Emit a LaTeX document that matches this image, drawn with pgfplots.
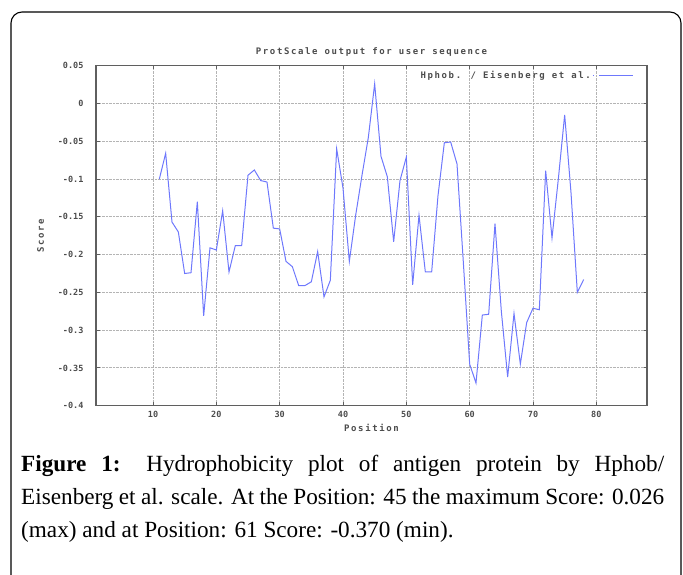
\documentclass[border=0pt]{standalone}
\usepackage{fontspec}
\setmainfont{Liberation Serif}
\newfontfamily\gp[LetterSpace=18]{DejaVu Sans Mono}
\newfontfamily\gpt{DejaVu Sans Mono}
\usepackage{pgfplots}
\pgfplotsset{compat=1.18}
\definecolor{curve}{RGB}{110,120,252}
\definecolor{gridc}{RGB}{180,180,180}
\definecolor{framec}{RGB}{95,95,95}

\pgfplotstableread{
pos score
11 -0.100
12 -0.066
13 -0.157
14 -0.170
15 -0.225
16 -0.224
17 -0.130
18 -0.281
19 -0.191
20 -0.194
21 -0.142
22 -0.223
23 -0.188
24 -0.188
25 -0.095
26 -0.088
27 -0.102
28 -0.104
29 -0.165
30 -0.166
31 -0.209
32 -0.216
33 -0.241
34 -0.241
35 -0.236
36 -0.196
37 -0.256
38 -0.234
39 -0.060
40 -0.112
41 -0.209
42 -0.148
43 -0.095
44 -0.045
45 0.026
46 -0.070
47 -0.097
48 -0.183
49 -0.102
50 -0.071
51 -0.240
52 -0.148
53 -0.223
54 -0.223
55 -0.122
56 -0.052
57 -0.051
58 -0.080
59 -0.210
60 -0.345
61 -0.370
62 -0.280
63 -0.279
64 -0.159
65 -0.275
66 -0.362
67 -0.278
68 -0.345
69 -0.290
70 -0.271
71 -0.273
72 -0.089
73 -0.178
74 -0.100
75 -0.015
76 -0.118
77 -0.250
78 -0.233
}\hydro

\begin{document}
\begin{tikzpicture}[x=1pt,y=1pt]
\path[use as bounding box] (0pt,0pt) rectangle (683pt,575pt);
\begin{scope}
\clip (0pt,0pt) rectangle (683pt,575pt);
\draw[line width=1.1pt, rounded corners=11pt] (11pt,-40pt) rectangle (681pt,563pt);
\end{scope}
\begin{axis}[
  at={(96pt,169.3pt)}, anchor=south west,
  scale only axis, width=551pt, height=340pt,
  xmin=1, xmax=88, ymin=-0.4, ymax=0.05,
  xtick={10,20,30,40,50,60,70,80},
  xticklabels={10,20,30,40,50,60,70,80},
  ytick={-0.4,-0.35,-0.3,-0.25,-0.2,-0.15,-0.1,-0.05,0,0.05},
  yticklabels={-0.4,-0.35,-0.3,-0.25,-0.2,-0.15,-0.1,-0.05,0,0.05},
  tick label style={font=\gpt\bfseries\fontsize{8.5}{9}\selectfont, text=black!70},
  yticklabel style={xshift=-9pt},
  xticklabel style={yshift=-2pt},
  grid=major,
  major grid style={gridc, densely dotted, line width=1pt},
  axis line style={framec, line width=1.4pt},
  tick style={framec, line width=0.9pt},
  tick align=inside, major tick length=3.5pt,
  title={ProtScale output for user sequence},
  title style={font=\gp\bfseries\fontsize{9}{10}\selectfont, text=black!70, at={(0.5,1)}, anchor=south, yshift=0pt},
  xlabel={Position},
  xlabel style={font=\gp\bfseries\fontsize{9}{10}\selectfont, text=black!70, yshift=0pt},
  ylabel={Score},
  ylabel style={font=\gp\bfseries\fontsize{9}{10}\selectfont, text=black!70, yshift=7pt},
  legend style={draw=none, fill=none, at={(1,1)}, anchor=north east, xshift=-10pt, yshift=-1pt,
    font=\gp\bfseries\fontsize{9}{10}\selectfont, text=black!70},
  legend plot pos=right,
  legend image code/.code={\path (0pt,0pt) -- (1pt,0pt);\draw[#1] (6pt,0pt) -- (40pt,0pt);},
]
\addplot[curve, line width=1pt] table[x=pos, y=score] {\hydro};
\addlegendentry{Hphob. / Eisenberg et al.}
\end{axis}
\node[anchor=north west, inner sep=0pt, text width=643pt, align=justify,
  font=\fontsize{23.2}{33}\selectfont] at (21pt,120pt)
  {\textbf{Figure 1:} Hydrophobicity plot of antigen protein by Hphob/\linebreak
  Eisenberg et al. scale. At the Position: 45 the maximum Score: 0.026\linebreak
  (max) and at Position: 61 Score: -0.370 (min).};
\end{tikzpicture}
\end{document}
